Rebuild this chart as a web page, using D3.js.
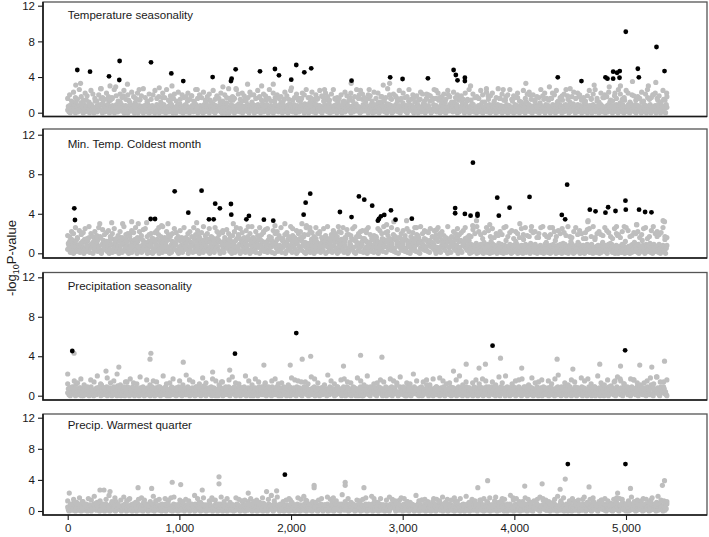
<!DOCTYPE html>
<html>
<head>
<meta charset="utf-8">
<script src="https://cdn.jsdelivr.net/npm/d3@7/dist/d3.min.js"></script>
<style>
  body { margin: 0; background: #fff; }
  text { font-family: "Liberation Sans", Arial, sans-serif; }
</style>
</head>
<body>
<script>

// panel names, top to bottom
const panelTitles = ["Temperature seasonality", "Min. Temp. Coldest month", "Precipitation seasonality", "Precip. Warmest quarter"];
const yTicks = [0, 4, 8, 12];
const xTicks = [0, 1000, 2000, 3000, 4000, 5000];
const lastSnp = 5366;

// background SNPs (grey), one char per SNP sampled along the genome, value = char index / 10
const tempSeasonBulk = [
  "3718052a46920c7315848b2604916e3725081946302d57186439g20b751846",
  "29d0371h852064931758c2946j0381750e469283570b1946028f5371048261",
  "c94037518264063951702846h19350264718c5930g462073958a16420385917",
  "d26043j8517b29460371826504913c72850e4639a15082i7364c190528470b3",
  "610g5928e40713862a5194d0736f28491057k369204817395h2064a8137e592",
  "0g46813705d9264i1839c5047f26184093a752169370284e1659g3720a84169",
  "053h2781c4609f35287140i6395e2817a04631758g2904c63815027d4169b83",
  "52h07461938a5274k0613f9825c3470g1596304918172b5063i9284d1750a36",
  "92g80417359h2618e0473b95621807d49358260h14739025f6138a4907l2685",
  "d3014g95728136e4029i5718c0364k29574716c382905e16374b8205931f64",
  "0738a2916450h3827195c04637281j59031846b27053916g48205736e19402",
  "85316d2049718h35062a9741805c3629k1470358d2961740b38526f1094738",
  "2601g49375081c6249370e5182946j30715948a26037195i2840631b75920",
  "61483g05927316d4805296173h40258196c3740815m2963074b851940e3627",
  "19408a52736190g4827350c16942807h3519064k2738051e96402831f75096"
].join("");
const minTempBulk = [
  "4a8c17e3905b6d2f8471a93c60e5b28d4g1796a0c35f8b2e74h1093d6a58c2",
  "7b04e9f1836c2a57d0g48b1e93a6f2c705k8d14b69e3a0c72f5g18d36b94a0",
  "5c81a7f04d2b96e3j08c5a17f4b92d6e30h81c5b74a9f2e06d38g15b9c4a7e",
  "0d63b8a19f5e27c4i08b36d1a95f7c2e40b83g6d19a5f7e3c02b8l41d96a5c",
  "9e27c0b4a81d6f35h90e2c7b4a16d8f3e09c52g7b41a8d6f0e93c5m2b74a1d",
  "3f86d1c9b07a5e24g83f1d6c9b02a7e5f38d1i6c94b0a2e7f5d3c8h1b06a49",
  "6a15e8d30c7f2b94k61a5e3d8c0f7b29a46e1d8g3c5f0b72a9e64d1c8f3j05",
  "2b97f4e61d0c8a35h27b9f1e4d6c0a38b52f7e19d4g6c0a83b5f2e97d1c6i4",
  "8c43a6f25e1d9b07g84c3a6f2e5d19b70c48a3f6e2d9i1b05c7a48f3e6d2b9",
  "1d79b5a83f0e6c24h17d9b5a3f8e0c62d19b7a5f3e8g0c46d21b9a7f5e3c8d",
  "0491728365a04817293650b4728196305c71948263058a2719460385d1726",
  "3950618274c39057162840e5391827460a82736194502g73816250493b817",
  "6208174935d06281739405a82917360485c3920716485b29073618504f392",
  "5817293046e51738204619b73826105948a4917360285i04726193850c461",
  "2760381945b28471906352d86301947258a1630895247h31940572863e058"
].join("");
const precSeasonBulk = [
  "3718052946920c73158480260491637250819463025718643920b75184629",
  "0371852064931750a29460381750e46928035719460285371048261940375",
  "18264063951702846193502647185930462073958164203859172604385171",
  "29460371826504913728504639a15082736419052847036105928e4071386",
  "25194073628491057369204817395206481370592046813705926418391c50",
  "47261840937521693702840165937208416905327814609352871406395e28",
  "17046317582904638150274169835207461938527406139825347015963049",
  "18172506392840175036920804173592618047395621807493582601473902",
  "56138490726852d301495728136040295718036429574716038290516374b",
  "82059316407382916450382719504637281590318462705391648205736194",
  "02853162049718350629741805362914703582961740385261094738260149",
  "37508162493705182946307159482603719528406317592061483059273164",
  "80529617340258196374081529630748519403627194085273619048273501",
  "69428073519064273805196402831750962a38517f0492637h18205c93746",
  "158204926g37185a029364817d5203974618b2905736j4821069358e72410"
].join("");
const precWarmBulk = [
  "5203847192b6037481925063c8147920358170264935a18265093471860293",
  "47150293864170c8295346017285930471f6283059174602938514720b6384",
  "91027365184902d6374158203647190582e7316402958173604921835a7042",
  "68359014726830915274b6039175824063718952h0417396205849173062518",
  "3047296158304716928340512796305841c72936048517390628415930a7264",
  "1059384726019538472605184930725186403e91728503649172083546192e0",
  "7362815904726391805472936014857290364817b502938461750294836175",
  "2940617385924061783592048613759204816375902g418675029361847205",
  "8513702946a8573092461e85730291846c1605739284061735920846e175390",
  "2731958046c3195082746b13950728641f02953817460d39182750468291037",
  "4916208537a1692850374e69128035741b9620583714d96208751346g920583",
  "6058391724h05839712640582c1739460852b91730465839f27104658e39271",
  "1927406358b19274063581d29740365810927c40635819274a063581f927403",
  "3482591067c34825106793e48259160743825a16093482b59107634f8259107",
  "7605183924a76051839247d60518932476051e83924760b51839274605c1839"
].join("");

// grey SNPs in the ragged upper edge of the band, same coding
const tempSeasonMid = [
  "gkdnhfqiemjcplgdkrhfmiegqjdlhpfkcnigmejrhdlfkpgicmhqejgldnfkhi",
  "mfjdqgkhneilcpfjgmdkhreigqlfmjdhnckgpieljfqdmhkgicnjfpehlgdmkq",
  "hcnfkgpjdmielqfhgkcnjemdiqgplhfkjdngmciehrkfljdpgmhiqfkcjenldg",
  "kjeqgmhdlfpicnhkgjfmdqelhigpkcnfjmdhrgleikqfjhmdcpglnfkeihqjmg",
  "egmkpdhjlqfcingmkehdjpflqgcmhkinedjgqlfhpmckjeigndlqfhkmgjcpei"
].join("");
const minTempMid = [
  "ihmkqgnjlpfrkhmiqgojlnhkpfimgrjkhnlqgmiophjkflnqhrgmjikplhnfqg",
  "kmhqjnglrikphfqmjlngokhimqjplgnhkrfmiqjlophgnkmiqfjlhrpgnkmhjq",
  "jnlhqkmgpirfjnkhmlqgojiprhkmnflqjgihpnkrlmfqjhogknipmhlqjgrknm",
  "lphnjqkmigrfhmkpjlnqgihokrmjflqnhpgkimjqrhlnfmkgpjqihnlmgkqrjh",
  "gjqmhnkplirhgmqjnkflophrgkmjiqnlhfpkjgmrqnhilkmgjpqfhnrkmjlqhg"
].join("");
const precSeasonMid = [
  "c8fdhb9gekc8idfmb9ehdcj8gbfe9kcdh8fblge9cid8hfbe9gjdc8kfbhe9d",
  "9fhcd8bigfe9cjhd8blfc9ghed8ifbk9cdge8hfbj9dcmf8egbh9ifcd8gkbe",
  "8dgchf9ebjdk8cfgh9bideg8fchl9dbge8ifhc9kdbg8ejfc9hgdb8ficje9g"
].join("");
const precWarmMid = [
  "d9fbhc8gejbd9fkch8eidg9bfhe8cjdf9gbhi8ecfd9kgbh8dfe9icgb8hfde",
  "9gcebh8fkdi9cegb8hfjd9cbeg8ifhd9lcgb8edfh9jcbg8eifd9hgcb8kdef",
  "c8gfdib9ehcg8jbfd9egch8ibdf9kegc8hfbd9igec8fjbh9dgce8ibfh9cegd",
  "8fhgb9dice8gfbh9jedc"
].join("");

// higher grey SNPs [snp, -log10 p]
const tempSeasonGrey = [[72,3.1],[115,3.3],[300,2.7],[379,3.0],[430,2.9],[535,3.2],[640,2.6],[820,2.8],[934,3.0],[1160,2.6],[1390,2.9],[1507,2.7],[1611,3.2],[1737,3.0],[1841,3.2],[2004,2.8],[2300,2.6],[2539,3.3],[2700,2.6],[2826,3.1],[2883,3.3],[3300,2.5],[3608,3.0],[3750,2.7],[3900,2.6],[4103,3.3],[4314,2.9],[4500,2.7],[4715,3.1],[4850,2.9],[4950,3.0],[5058,3.5],[5200,3.0],[5267,3.4],[5364,2.2]];
const minTempGrey = [[287,3.0],[394,3.1],[492,3.0],[573,3.2],[632,3.0],[707,3.1],[841,2.8],[898,3.0],[1155,3.1],[1483,3.0],[1617,2.7],[1856,2.8],[1945,3.0],[2098,3.0],[2138,2.8],[2169,2.6],[2424,2.7],[2677,2.4],[2856,2.9],[2921,3.2],[3035,3.3],[3124,2.6],[3304,2.4],[3627,2.8],[3661,3.3],[3780,2.9],[4049,3.0],[4154,2.7],[4318,2.6],[4658,3.2],[4661,3.3],[4915,2.7],[5094,2.9],[5097,2.9],[5332,3.3],[5345,3.2]];
const precSeasonGrey = [[0,2.2],[57,4.3],[343,2.5],[458,2.9],[737,3.7],[745,4.3],[1035,3.4],[1298,2.4],[1451,2.6],[1757,3.1],[1993,3.1],[2100,3.7],[2176,4.0],[2470,3.0],[2623,4.1],[2814,3.9],[3455,2.5],[3569,3.2],[3684,2.8],[3741,3.2],[3876,3.8],[4066,2.8],[4383,3.7],[4524,2.7],[4765,3.2],[4951,3.0],[5123,3.1],[5231,2.9],[5345,3.5]];
const precWarmGrey = [[14,2.3],[289,2.7],[325,2.7],[379,2.5],[630,3.0],[752,2.9],[936,3.7],[1012,3.4],[1205,2.7],[1355,4.4],[1355,3.5],[1617,2.3],[1781,2.5],[1871,2.6],[2207,3.3],[2207,3.0],[2485,3.7],[2485,3.3],[2653,3.0],[3673,3.0],[3761,3.9],[4093,3.2],[4249,3.5],[4410,2.8],[4456,4.1],[4669,3.1],[4925,2.3],[5040,2.9],[5326,3.3],[5345,3.9]];

// significant SNPs (black)
const tempSeasonHits = [[86,4.79],[200,4.6],[370,4.08],[465,5.8],[462,3.67],[746,5.65],[928,4.4],[1035,3.55],[1298,4.0],[1462,3.55],[1468,3.82],[1504,4.87],[1722,4.64],[1856,4.9],[1892,4.19],[2002,3.7],[2047,5.35],[2119,4.53],[2181,4.98],[2542,3.59],[2888,3.97],[2999,3.78],[3226,3.86],[3456,4.79],[3476,4.23],[3491,3.63],[3557,3.92],[3557,3.55],[4389,3.97],[4601,3.55],[4816,3.97],[4834,3.82],[4885,4.6],[4885,3.82],[4920,4.48],[4944,4.67],[4942,3.92],[4998,9.08],[5106,4.93],[5115,3.97],[5273,7.37],[5345,4.67]];
const minTempHits = [[59,4.55],[65,3.37],[743,3.47],[782,3.47],[958,6.27],[1080,4.11],[1199,6.34],[1265,3.44],[1307,3.44],[1321,5.02],[1363,4.55],[1462,4.99],[1465,3.91],[1600,3.44],[1623,3.78],[1757,3.4],[1841,3.3],[2113,3.91],[2131,5.12],[2172,6.03],[2438,4.18],[2542,3.67],[2608,5.75],[2656,5.43],[2727,4.82],[2778,3.3],[2787,3.47],[2805,3.74],[2835,3.88],[2895,4.35],[2936,3.4],[3082,3.5],[3470,4.58],[3470,4.05],[3557,3.98],[3608,3.81],[3629,9.17],[3670,3.98],[3670,3.81],[3847,5.63],[3861,3.81],[3957,4.62],[4136,5.7],[4425,3.88],[4455,3.44],[4473,6.94],[4676,4.41],[4727,4.25],[4816,4.11],[4840,4.66],[4906,4.28],[4995,5.32],[4998,4.41],[5117,4.41],[5171,4.18],[5228,4.15]];
const precSeasonHits = [[41,4.53],[1498,4.26],[2047,6.35],[3805,5.07],[4992,4.6]];
const precWarmHits = [[1945,4.67],[4479,6.04],[4995,6.04]];

const bulkSeries = [tempSeasonBulk, minTempBulk, precSeasonBulk, precWarmBulk];
const midSeries = [tempSeasonMid, minTempMid, precSeasonMid, precWarmMid];
const greySeries = [tempSeasonGrey, minTempGrey, precSeasonGrey, precWarmGrey];
const hitSeries = [tempSeasonHits, minTempHits, precSeasonHits, precWarmHits];

const codeChars = "0123456789abcdefghijklmnopqrstuvwxyz";
function decode(str) {
  const n = str.length;
  return Array.from(str, (c, i) => [i * lastSnp / (n - 1), codeChars.indexOf(c) / 10]);
}

const width = 709, height = 537;
const frameLeft = 43, frameRight = 707;

// panel boxes (pixel layout)
const boxes = [
  {top: 2,   bottom: 116.5, y0: 112.7, y12: 5.7,   titleY: 18.5},
  {top: 129, bottom: 258,   y0: 253.3, y12: 134.7, titleY: 147.5},
  {top: 272.5, bottom: 400, y0: 395.7, y12: 277.3, titleY: 289.8},
  {top: 414, bottom: 515,   y0: 511,   y12: 417.7, titleY: 429}
];

const svg = d3.select("body").append("svg")
  .attr("width", width)
  .attr("height", height);

const x = d3.scaleLinear().domain([0, 5000]).range([67.7, 626]);

boxes.forEach((b, k) => {
  const y = d3.scaleLinear().domain([0, 12]).range([b.y0, b.y12]);
  const g = svg.append("g");

  g.append("rect")
    .attr("x", frameLeft).attr("y", b.top)
    .attr("width", frameRight - frameLeft).attr("height", b.bottom - b.top)
    .attr("fill", "none").attr("stroke", "#555").attr("stroke-width", 1.3);

  const greyPts = decode(bulkSeries[k]).concat(decode(midSeries[k]), greySeries[k]);

  g.append("g").selectAll("circle")
    .data(greyPts)
    .enter().append("circle")
    .attr("cx", d => x(d[0]))
    .attr("cy", d => y(d[1]))
    .attr("r", 2.6)
    .style("fill", "#bebebe");

  g.append("g").selectAll("circle")
    .data(hitSeries[k])
    .enter().append("circle")
    .attr("cx", d => x(d[0]))
    .attr("cy", d => y(d[1]))
    .attr("r", 2.4)
    .style("fill", "#000");

  // left and bottom edges drawn darker
  g.append("path")
    .attr("d", `M${frameLeft},${b.top}V${b.bottom}H${frameRight}`)
    .attr("fill", "none").attr("stroke", "#1a1a1a").attr("stroke-width", 1.6);

  const yAxis = g.append("g")
    .attr("transform", `translate(${frameLeft},0)`)
    .call(d3.axisLeft(y).tickValues(yTicks).tickSize(5).tickPadding(3));
  yAxis.select(".domain").remove();
  yAxis.selectAll("line").attr("stroke", "#1a1a1a").attr("stroke-width", 1.1);
  yAxis.selectAll("text").style("font-size", "11.5px").attr("fill", "#1a1a1a")
    .style("font-family", "'Liberation Sans', Arial, sans-serif");

  g.append("text")
    .attr("x", 67.7).attr("y", b.titleY)
    .style("font-size", "11.5px").attr("fill", "#1a1a1a")
    .text(panelTitles[k]);

  if (k === boxes.length - 1) {
    const xAxis = g.append("g")
      .attr("transform", `translate(0,${b.bottom})`)
      .call(d3.axisBottom(x).tickValues(xTicks).tickFormat(d3.format(",")).tickSize(5).tickPadding(4));
    xAxis.select(".domain").remove();
    xAxis.selectAll("line").attr("stroke", "#1a1a1a").attr("stroke-width", 1.1);
    xAxis.selectAll("text").style("font-size", "11.5px").attr("fill", "#1a1a1a")
      .style("font-family", "'Liberation Sans', Arial, sans-serif");
  }
});

// y axis title
const yTitle = svg.append("text")
  .attr("transform", "translate(16,258) rotate(-90)")
  .attr("text-anchor", "middle")
  .style("font-size", "13px")
  .attr("fill", "#1a1a1a");
yTitle.append("tspan").text("-log");
yTitle.append("tspan").attr("dy", 3).style("font-size", "9px").text("10");
yTitle.append("tspan").attr("dy", -3).text("P-value");

</script>
</body>
</html>
